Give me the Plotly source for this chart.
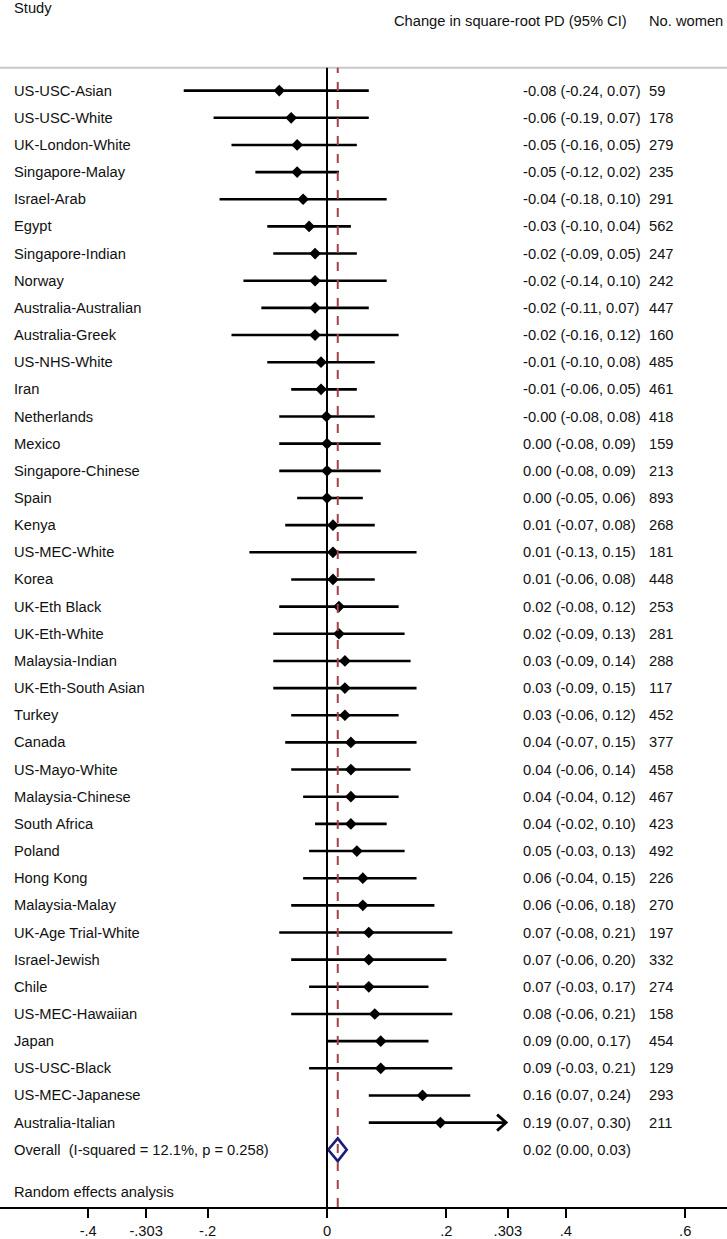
import plotly.graph_objects as go

# ---------------- data ----------------
studies = ["US-USC-Asian", "US-USC-White", "UK-London-White", "Singapore-Malay", "Israel-Arab",
           "Egypt", "Singapore-Indian", "Norway", "Australia-Australian", "Australia-Greek",
           "US-NHS-White", "Iran", "Netherlands", "Mexico", "Singapore-Chinese", "Spain", "Kenya",
           "US-MEC-White", "Korea", "UK-Eth Black", "UK-Eth-White", "Malaysia-Indian",
           "UK-Eth-South Asian", "Turkey", "Canada", "US-Mayo-White", "Malaysia-Chinese",
           "South Africa", "Poland", "Hong Kong", "Malaysia-Malay", "UK-Age Trial-White",
           "Israel-Jewish", "Chile", "US-MEC-Hawaiian", "Japan", "US-USC-Black",
           "US-MEC-Japanese", "Australia-Italian"]
est = [-0.08, -0.06, -0.05, -0.05, -0.04, -0.03, -0.02, -0.02, -0.02, -0.02, -0.01, -0.01, -0.001,
       0.00, 0.00, 0.00, 0.01, 0.01, 0.01, 0.02, 0.02, 0.03, 0.03, 0.03, 0.04, 0.04, 0.04, 0.04,
       0.05, 0.06, 0.06, 0.07, 0.07, 0.07, 0.08, 0.09, 0.09, 0.16, 0.19]
lo = [-0.24, -0.19, -0.16, -0.12, -0.18, -0.10, -0.09, -0.14, -0.11, -0.16, -0.10, -0.06, -0.08,
      -0.08, -0.08, -0.05, -0.07, -0.13, -0.06, -0.08, -0.09, -0.09, -0.09, -0.06, -0.07, -0.06,
      -0.04, -0.02, -0.03, -0.04, -0.06, -0.08, -0.06, -0.03, -0.06, 0.00, -0.03, 0.07, 0.07]
hi = [0.07, 0.07, 0.05, 0.02, 0.10, 0.04, 0.05, 0.10, 0.07, 0.12, 0.08, 0.05, 0.08, 0.09, 0.09,
      0.06, 0.08, 0.15, 0.08, 0.12, 0.13, 0.14, 0.15, 0.12, 0.15, 0.14, 0.12, 0.10, 0.13, 0.15,
      0.18, 0.21, 0.20, 0.17, 0.21, 0.17, 0.21, 0.24, 0.30]
n_women = [59, 178, 279, 235, 291, 562, 247, 242, 447, 160, 485, 461, 418, 159, 213, 893, 268,
           181, 448, 253, 281, 288, 117, 452, 377, 458, 467, 423, 492, 226, 270, 197, 332, 274,
           158, 454, 129, 293, 211]
arrow_flag = [False] * 38 + [True]

overall_est, overall_lo, overall_hi = 0.018, 0.002, 0.033
overall_label = "Overall  (I-squared = 12.1%, p = 0.258)"

tick_vals = [-0.4, -0.303, -0.2, 0, 0.2, 0.303, 0.4, 0.6]
tick_text = ["-.4", "-.303", "-.2", "0", ".2", ".303", ".4", ".6"]

# ---------------- layout helpers ----------------
W, H = 727, 1239
PLOT_H = 1212
ROW0, ROWH = 91.0, 27.27


def prow(p):  # pixel y -> row coordinate
    return (p - ROW0) / ROWH


FONT = "Liberation Sans, Arial, sans-serif"
FS = 14.7
TXT = "#111111"
x_lab = 12 / W
x_eff = 521 / W
x_n = 647 / W

rows = list(range(len(studies)))
overall_row = len(studies)

fig = go.Figure()

# CI lines
cx, cy = [], []
for r, a, b in zip(rows, lo, hi):
    cx += [a, b, None]
    cy += [r, r, None]
fig.add_trace(go.Scatter(x=cx, y=cy, mode="lines", line=dict(color="black", width=2.6),
                         hoverinfo="skip", showlegend=False))
# point estimates
fig.add_trace(go.Scatter(x=est, y=rows, mode="markers",
                         marker=dict(symbol="diamond", size=9, color="black"),
                         showlegend=False))
# overall diamond
dh = 0.42
fig.add_trace(go.Scatter(
    x=[overall_lo, overall_est, overall_hi, overall_est, overall_lo],
    y=[overall_row, overall_row - dh, overall_row, overall_row + dh, overall_row],
    mode="lines", line=dict(color="#1b1b78", width=2.6), showlegend=False))

shapes = []
y_top_paper = (PLOT_H - 68) / PLOT_H
# header rule
shapes.append(dict(type="line", xref="paper", yref="paper", x0=0, x1=1, y0=y_top_paper,
                   y1=y_top_paper, line=dict(color="#c8c8c8", width=2)))
# null line
shapes.append(dict(type="line", xref="x", yref="paper", x0=0, x1=0, y0=0, y1=y_top_paper,
                   line=dict(color="black", width=2)))
# overall dashed line
shapes.append(dict(type="line", xref="x", yref="paper", x0=overall_est, x1=overall_est,
                   y0=0, y1=y_top_paper, line=dict(color="#a3404c", width=2, dash="dash")))
# arrow heads for clipped CIs
px_per_unit = 597.0
for r, b, f in zip(rows, hi, arrow_flag):
    if f:
        dx = 9 / px_per_unit
        dy = 8 / ROWH
        shapes.append(dict(type="path", xref="x", yref="y",
                           path=f"M {b-dx},{r-dy} L {b},{r} L {b-dx},{r+dy}",
                           line=dict(color="black", width=2.8)))

ann = []


def txt(x, y, s, anchor="left"):
    ann.append(dict(x=x, y=y, xref="paper", yref="y", text=s, showarrow=False, xanchor=anchor,
                    yanchor="middle", font=dict(family=FONT, size=FS, color=TXT)))


txt(x_lab, prow(8), "Study")
txt(392 / W, prow(21), "Change in square-root PD (95% CI)")
txt(725 / W, prow(21), "No. women", anchor="right")
for r, s, e, a, b, n in zip(rows, studies, est, lo, hi, n_women):
    txt(x_lab, r, s)
    txt(x_eff, r, f"{e:.2f} ({a:.2f}, {b:.2f})")
    txt(x_n, r, str(n))
txt(x_lab, overall_row, overall_label)
txt(x_eff, overall_row, f"{overall_est:.2f} ({overall_lo:.2f}, {overall_hi:.2f})")
txt(x_lab, prow(1197), "Random effects analysis")

fig.update_layout(
    width=W, height=H, margin=dict(l=0, r=0, t=0, b=H - PLOT_H),
    paper_bgcolor="white", plot_bgcolor="white",
    shapes=shapes, annotations=ann, showlegend=False,
    xaxis=dict(range=[-327 / px_per_unit, 400 / px_per_unit], tickvals=tick_vals,
               ticktext=tick_text, showgrid=False, zeroline=False, showline=True,
               linecolor="black", linewidth=2, ticks="outside", ticklen=9, tickwidth=2,
               tickcolor="black", tickfont=dict(family=FONT, size=FS, color=TXT),
               fixedrange=True),
    yaxis=dict(range=[prow(PLOT_H), prow(0)], showgrid=False, zeroline=False,
               showticklabels=False, showline=False, fixedrange=True),
)

fig.write_html("out.html", config={"displayModeBar": False},
               post_script="document.body.style.margin='0';document.body.style.padding='0';"
                           "document.body.style.overflow='hidden';")
